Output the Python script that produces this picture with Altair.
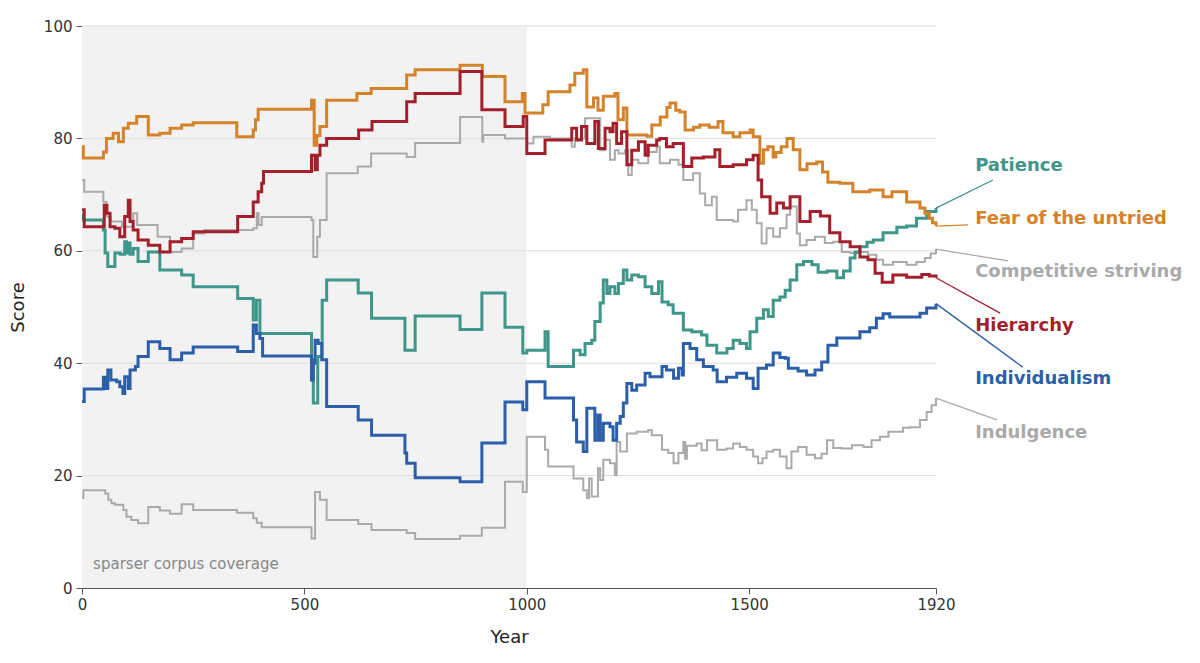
import altair as alt
import pandas as pd

# ── series data (year, score) ───────────────────────────────────────
fear_years = [0, 3, 48, 55, 70, 82, 93, 104, 123, 149, 175, 198, 224, 250, 348, 385, 390, 396,
              516, 522, 528, 535, 550, 618, 650, 730, 749, 850, 900, 951, 990, 996, 1036, 1048,
              1097, 1108, 1127, 1135, 1150, 1160, 1172, 1198, 1205, 1217, 1225, 1270, 1281, 1300,
              1315, 1322, 1335, 1344, 1356, 1375, 1389, 1410, 1430, 1441, 1464, 1479, 1502, 1509,
              1524, 1532, 1542, 1554, 1560, 1572, 1585, 1599, 1614, 1630, 1652, 1665, 1677, 1704,
              1733, 1771, 1801, 1821, 1854, 1884, 1895, 1905, 1912, 1920]
fear_vals = [78.5, 76.5, 77.6, 80.0, 80.9, 79.4, 81.8, 82.7, 83.9, 80.6, 80.9, 81.8, 82.4, 82.8,
             80.3, 81.5, 83.3, 85.2, 86.8, 78.8, 80.5, 82.1, 86.8, 88.0, 88.9, 91.3, 92.2, 93.0,
             91.0, 86.5, 88.0, 84.5, 86.0, 88.3, 89.5, 91.6, 92.2, 85.6, 87.2, 85.0, 87.5, 88.0,
             83.3, 85.4, 80.6, 80.4, 82.4, 83.8, 85.5, 86.3, 85.0, 84.7, 81.5, 82.0, 82.4, 82.0,
             83.0, 81.0, 80.3, 81.0, 81.5, 80.3, 75.6, 78.0, 78.5, 76.7, 77.5, 78.5, 80.0, 78.0,
             74.4, 75.5, 75.8, 74.0, 72.2, 72.0, 70.5, 70.8, 69.6, 70.5, 68.7, 67.6, 66.7, 65.8,
             65.0, 64.4]

hier_years = [0, 5, 50, 56, 63, 74, 85, 96, 104, 108, 115, 126, 149, 175, 198, 224, 250,
              350, 385, 396, 404, 408, 516, 524, 529, 535, 550, 622, 652, 730, 749, 850, 899,
              951, 992, 1000, 1041, 1101, 1112, 1123, 1135, 1153, 1161, 1176, 1187, 1194, 1202,
              1213, 1225, 1236, 1251, 1266, 1273, 1292, 1299, 1314, 1329, 1352, 1371, 1397, 1423,
              1434, 1464, 1494, 1509, 1520, 1528, 1547, 1562, 1577, 1592, 1614, 1637, 1660, 1681,
              1704, 1727, 1749, 1767, 1783, 1799, 1823, 1854, 1888, 1905, 1920]
hier_vals = [67.3, 64.3, 68.1, 66.7, 64.3, 64.0, 62.5, 66.1, 69.0, 65.2, 63.7, 61.9, 61.0, 59.8,
             61.6, 62.2, 63.4, 66.1, 68.7, 70.5, 72.0, 74.1, 77.0, 74.4, 77.0, 78.8, 80.0, 81.5,
             83.0, 86.5, 88.0, 91.9, 85.1, 82.1, 83.9, 77.3, 79.7, 81.8, 79.7, 82.1, 79.1,
             83.0, 78.2, 81.8, 81.2, 82.7, 79.1, 81.2, 75.3, 77.9, 79.4, 77.0, 78.8, 79.7, 80.0,
             78.5, 79.1, 75.0, 76.5, 76.7, 78.0, 75.0, 75.3, 76.2, 77.0, 72.6, 69.6, 66.7, 68.5,
             67.6, 69.6, 65.2, 67.0, 66.2, 63.2, 61.6, 60.7, 58.9, 58.4, 56.0, 54.4, 55.7, 55.3,
             55.8, 55.5, 55.2]

comp_years = [0, 5, 48, 55, 65, 90, 115, 124, 170, 198, 224, 250, 275, 385, 393, 397, 404,
              516, 520, 529, 535, 550, 620, 650, 730, 749, 850, 900, 902, 951, 1000, 1015, 1052,
              1101, 1108, 1131, 1165, 1176, 1187, 1198, 1206, 1221, 1228, 1236, 1251, 1273, 1292,
              1299, 1322, 1341, 1352, 1374, 1389, 1401, 1416, 1427, 1464, 1475, 1494, 1506, 1517,
              1528, 1539, 1554, 1569, 1584, 1592, 1607, 1614, 1629, 1648, 1670, 1689, 1708, 1727,
              1749, 1767, 1786, 1801, 1823, 1854, 1876, 1895, 1908, 1920]
comp_vals = [72.6, 70.5, 68.7, 66.1, 65.2, 64.3, 66.7, 64.6, 62.5, 59.8, 60.4, 63.1, 63.7, 64.0,
             66.7, 64.6, 66.0, 65.5, 58.9, 62.5, 65.5, 73.8, 75.0, 77.3, 76.7, 79.2, 83.8, 79.4,
             80.6, 80.0, 79.1, 80.3, 80.0, 78.5, 80.0, 83.6, 77.9, 79.7, 76.2, 77.9, 77.3, 77.9,
             73.5, 76.2, 75.6, 77.6, 78.5, 75.6, 76.2, 75.3, 72.6, 73.8, 70.2, 68.1, 69.6, 65.5,
             65.2, 67.3, 69.0, 67.3, 64.9, 61.3, 64.0, 62.5, 64.0, 66.4, 67.9, 63.1, 61.0, 61.9,
             62.5, 61.4, 61.6, 59.8, 59.6, 59.8, 59.3, 58.4, 57.5, 58.0, 57.5, 58.0, 58.7, 59.5,
             60.3]

pat_years = [0, 3, 48, 52, 58, 74, 86, 96, 100, 104, 108, 115, 126, 149, 175, 224, 250, 350,
             385, 392, 400, 516, 520, 530, 540, 550, 621, 651, 726, 749, 850, 899, 951, 991,
             1000, 1041, 1048, 1105, 1120, 1131, 1146, 1153, 1165, 1172, 1180, 1187, 1198, 1206,
             1217, 1225, 1236, 1251, 1266, 1281, 1296, 1304, 1318, 1329, 1352, 1371, 1393, 1405,
             1427, 1450, 1464, 1479, 1494, 1502, 1517, 1532, 1543, 1554, 1569, 1581, 1592, 1607,
             1622, 1641, 1655, 1675, 1697, 1712, 1727, 1738, 1749, 1765, 1779, 1801, 1832, 1854,
             1876, 1899, 1920]
pat_vals = [66.4, 65.5, 63.7, 59.6, 57.2, 59.6, 59.4, 61.6, 59.6, 61.4, 59.4, 60.4, 58.1, 59.8,
            56.6, 55.7, 53.6, 51.5, 47.7, 51.2, 45.3, 40.6, 32.9, 41.2, 51.2, 54.8, 52.5, 48.0,
            42.3, 48.4, 46.0, 52.5, 46.4, 41.8, 42.3, 45.6, 39.4, 42.3, 41.5, 43.5, 44.1, 47.4,
            50.7, 54.8, 52.4, 53.6, 52.4, 54.2, 56.6, 54.8, 55.7, 55.4, 53.6, 52.4, 54.5, 50.9,
            50.4, 48.9, 45.9, 45.6, 45.0, 43.2, 41.8, 42.6, 44.1, 43.5, 42.6, 45.6, 48.0, 49.5,
            48.3, 51.2, 51.8, 53.0, 54.8, 57.5, 58.1, 57.5, 56.2, 56.4, 55.2, 56.4, 58.7, 59.8,
            60.7, 61.5, 61.9, 63.2, 64.2, 64.4, 65.8, 67.0, 67.6]

ind_years = [0, 5, 48, 52, 58, 65, 78, 85, 92, 96, 104, 108, 120, 126, 149, 175, 198, 224, 250,
             350, 385, 392, 400, 406, 516, 520, 524, 531, 539, 550, 621, 651, 726, 730, 749, 850,
             899, 951, 991, 1000, 1041, 1101, 1105, 1112, 1127, 1135, 1146, 1153, 1160, 1165,
             1172, 1187, 1194, 1202, 1210, 1217, 1225, 1236, 1247, 1266, 1277, 1304, 1314, 1330,
             1341, 1349, 1352, 1367, 1382, 1397, 1419, 1428, 1449, 1472, 1494, 1509, 1520, 1539,
             1554, 1569, 1581, 1588, 1610, 1629, 1648, 1663, 1677, 1697, 1719, 1749, 1771, 1786,
             1801, 1816, 1861, 1884, 1899, 1920]
ind_vals = [33.2, 35.4, 37.5, 35.5, 38.8, 37.0, 36.7, 35.8, 34.6, 37.6, 35.5, 38.8, 39.4, 41.2,
            43.8, 42.6, 40.6, 41.8, 42.9, 42.1, 46.8, 45.3, 44.4, 41.3, 37.0, 40.0, 44.1, 43.5,
            40.6, 32.3, 29.9, 27.2, 24.0, 22.2, 19.6, 18.9, 25.8, 33.1, 31.7, 36.7, 33.8, 33.8,
            29.9, 26.0, 24.3, 32.0, 32.0, 26.3, 30.8, 26.3, 29.3, 28.7, 26.3, 29.3, 30.5, 32.9,
            36.4, 35.2, 36.1, 38.2, 37.6, 39.4, 38.8, 37.3, 39.1, 37.9, 43.5, 42.6, 40.6, 39.4,
            38.8, 36.7, 37.5, 38.2, 37.3, 35.5, 39.1, 39.7, 41.8, 41.0, 40.9, 39.1, 38.6, 37.9,
            38.8, 40.2, 43.2, 44.5, 44.5, 45.6, 46.3, 48.0, 48.8, 48.2, 48.2, 48.9, 49.8, 50.6]

indu_years = [0, 3, 52, 59, 66, 74, 93, 100, 111, 126, 149, 175, 198, 224, 250, 348, 385, 393,
              404, 516, 524, 535, 550, 621, 651, 730, 749, 850, 899, 951, 991, 1000, 1041, 1048,
              1105, 1127, 1135, 1140, 1146, 1160, 1165, 1172, 1187, 1198, 1202, 1210, 1225, 1247,
              1273, 1281, 1304, 1318, 1330, 1341, 1352, 1356, 1360, 1382, 1393, 1405, 1428, 1449,
              1464, 1479, 1494, 1509, 1520, 1530, 1539, 1554, 1569, 1584, 1595, 1610, 1629, 1648,
              1663, 1675, 1689, 1708, 1731, 1757, 1775, 1794, 1813, 1846, 1861, 1884, 1899, 1910,
              1920]
indu_vals = [16.0, 17.4, 16.8, 15.7, 15.1, 14.8, 13.9, 12.7, 12.1, 11.5, 14.4, 13.8, 13.2, 14.9,
             13.9, 13.4, 12.4, 11.6, 10.8, 8.8, 17.1, 15.7, 12.1, 11.4, 10.3, 9.8, 8.7, 9.3, 10.7,
             18.9, 17.1, 26.9, 24.6, 21.6, 19.5, 17.4, 16.0, 19.5, 16.3, 21.3, 19.2, 22.8, 22.2,
             20.1, 26.0, 24.3, 27.5, 27.8, 28.1, 27.2, 24.6, 24.0, 22.2, 24.0, 26.0, 23.0, 25.3,
             25.7, 24.5, 26.3, 24.6, 24.8, 25.7, 25.1, 24.6, 23.4, 22.2, 23.1, 24.3, 24.6, 23.4,
             21.3, 24.3, 25.1, 23.7, 23.1, 23.9, 26.3, 24.9, 24.8, 25.4, 25.1, 26.3, 26.9, 27.8,
             28.5, 28.6, 29.9, 31.3, 32.5, 33.8]

series_names = ["Patience", "Fear of the untried", "Competitive striving",
                "Hierarchy", "Individualism", "Indulgence"]
series_colors = ["#3f968a", "#d5832b", "#aaaaaa", "#a31f2b", "#2b5fa9", "#aaaaaa"]

# label placement (data units) and leader-line ends
label_x = 2008
label_y = [75.1, 65.7, 56.2, 46.6, 37.2, 27.6]
leader_x = [2048, 1992, 2082, 2064, 2115, 2057]
leader_y = [72.6, 64.6, 58.2, 48.9, 39.3, 29.9]

sparse_start, sparse_end = 0, 1000
y_ticks = [0, 20, 40, 60, 80, 100]
x_ticks = [0, 500, 1000, 1500, 1920]

# ── build tables ─────────────────────────────────────────────────────
raw = {
    "Patience": (pat_years, pat_vals),
    "Fear of the untried": (fear_years, fear_vals),
    "Competitive striving": (comp_years, comp_vals),
    "Hierarchy": (hier_years, hier_vals),
    "Individualism": (ind_years, ind_vals),
    "Indulgence": (indu_years, indu_vals),
}
rows = []
for name, (ys, vs) in raw.items():
    assert len(ys) == len(vs), name
    for y, v in zip(ys, vs):
        rows.append({"series": name, "year": y, "score": v})
df = pd.DataFrame(rows)

ends = pd.DataFrame({
    "series": series_names,
    "end_year": [raw[n][0][-1] for n in series_names],
    "end_score": [raw[n][1][-1] for n in series_names],
    "lx": leader_x,
    "ly": leader_y,
    "tx": [label_x] * len(series_names),
    "ty": label_y,
})

gray_series = ["Competitive striving", "Indulgence"]
color_scale = alt.Scale(domain=series_names, range=series_colors)
x_scale = alt.Scale(domain=[0, 1920], nice=False, zero=False)
y_scale = alt.Scale(domain=[0, 100], nice=False)

FONT = "DejaVu Sans"

# ── shaded low-coverage band ─────────────────────────────────────────
band = alt.Chart(pd.DataFrame({"x0": [sparse_start], "x1": [sparse_end],
                               "y0": [0], "y1": [100]})).mark_rect(
    color="#f2f2f2"
).encode(
    x=alt.X("x0:Q", scale=x_scale,
            axis=alt.Axis(values=x_ticks, title="Year", grid=False, format="d",
                          labelFlush=False, labelPadding=3, titlePadding=16)),
    x2="x1:Q",
    y=alt.Y("y0:Q", scale=y_scale,
            axis=alt.Axis(values=y_ticks, title="Score", grid=False,
                          labelFlush=False, labelPadding=4, titlePadding=16)),
    y2="y1:Q",
)

band_text = alt.Chart(pd.DataFrame({"x": [25], "y": [4.3],
                                    "t": ["sparser corpus coverage"]})).mark_text(
    align="left", baseline="middle", font=FONT, fontSize=15, color="#888888"
).encode(x=alt.X("x:Q", scale=x_scale), y=alt.Y("y:Q", scale=y_scale), text="t:N")

# ── horizontal grid lines ───────────────────────────────────────────
grid = alt.Chart(pd.DataFrame({"v": y_ticks[1:]})).mark_rule(
    color="#dddddd", strokeWidth=1
).encode(
    y=alt.Y("v:Q", scale=y_scale),
    x=alt.value(0), x2=alt.value(854),
)

# ── series lines ─────────────────────────────────────────────────────
gray_lines = alt.Chart(df[df.series.isin(gray_series)]).mark_line(
    interpolate="step-after", strokeWidth=2
).encode(
    x=alt.X("year:Q", scale=x_scale),
    y=alt.Y("score:Q", scale=y_scale),
    color=alt.Color("series:N", scale=color_scale, legend=None),
    detail="series:N",
)

main_lines = alt.Chart(df[~df.series.isin(gray_series)]).mark_line(
    interpolate="step-after", strokeWidth=3
).encode(
    x=alt.X("year:Q", scale=x_scale),
    y=alt.Y("score:Q", scale=y_scale),
    color=alt.Color("series:N", scale=color_scale, legend=None),
    detail="series:N",
)

# ── direct labels with leader lines ─────────────────────────────────
leaders = alt.Chart(ends).mark_rule(strokeWidth=1.3).encode(
    x=alt.X("end_year:Q", scale=x_scale),
    y=alt.Y("end_score:Q", scale=y_scale),
    x2="lx:Q",
    y2="ly:Q",
    color=alt.Color("series:N", scale=color_scale, legend=None),
)

labels = alt.Chart(ends).mark_text(
    align="left", baseline="middle", font=FONT, fontSize=18, fontWeight="bold"
).encode(
    x=alt.X("tx:Q", scale=x_scale),
    y=alt.Y("ty:Q", scale=y_scale),
    text="series:N",
    color=alt.Color("series:N", scale=color_scale, legend=None),
)

chart = alt.layer(
    band, grid, band_text, gray_lines, main_lines, leaders, labels
).properties(
    width=854,
    height=562,
    padding={"left": 74, "top": 18, "right": 254, "bottom": 67},
    autosize=alt.AutoSizeParams(type="none"),
    background="white",
).configure_view(stroke=None).configure_axis(
    domainColor="#555555",
    tickColor="#555555",
    tickSize=6,
    labelColor="#333333",
    labelFont=FONT,
    labelFontSize=15,
    titleFont=FONT,
    titleFontSize=18,
    titleFontWeight="normal",
    titleColor="#222222",
)

chart.save("out.html", embed_options={"renderer": "svg", "actions": False})
